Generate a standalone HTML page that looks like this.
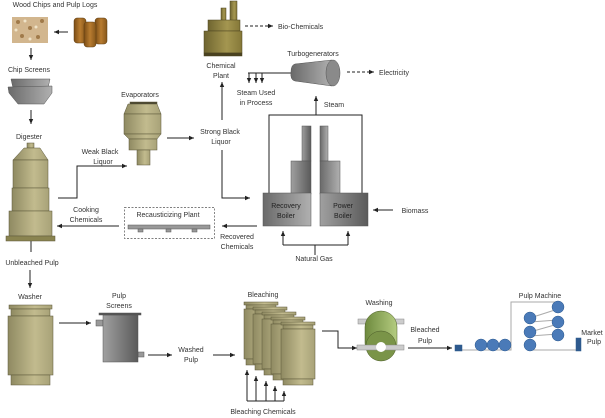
<!DOCTYPE html>
<html><head><meta charset="utf-8"><style>
html,body{margin:0;padding:0;background:#fff;width:605px;height:418px;overflow:hidden}
text{font-family:"Liberation Sans",sans-serif;font-size:7px;fill:#333;text-anchor:middle}
</style></head><body>
<svg width="605" height="418" viewBox="0 0 605 418" xmlns="http://www.w3.org/2000/svg">
<defs>
<marker id="a" markerWidth="6" markerHeight="6" refX="5" refY="3" orient="auto" markerUnits="userSpaceOnUse"><path d="M0,0.8 L5,3 L0,5.2z" fill="#222"/></marker>
<linearGradient id="tan" x1="0" x2="1"><stop offset="0" stop-color="#8f8a62"/><stop offset="0.6" stop-color="#c2bb8e"/><stop offset="1" stop-color="#a8a278"/></linearGradient>
<linearGradient id="olive" x1="0" x2="1"><stop offset="0" stop-color="#6f6530"/><stop offset="0.6" stop-color="#a49650"/><stop offset="1" stop-color="#857838"/></linearGradient>
<linearGradient id="gray" x1="0" x2="1"><stop offset="0" stop-color="#6a6a6a"/><stop offset="1" stop-color="#b0b0b0"/></linearGradient>
<linearGradient id="gray2" x1="0" x2="1"><stop offset="0" stop-color="#a0a0a0"/><stop offset="1" stop-color="#5a5a5a"/></linearGradient>
<linearGradient id="wood" x1="0" x2="1"><stop offset="0" stop-color="#7a4c15"/><stop offset="0.5" stop-color="#b87c30"/><stop offset="1" stop-color="#86561a"/></linearGradient>
<linearGradient id="green" x1="0" x2="1"><stop offset="0" stop-color="#6e8a3e"/><stop offset="1" stop-color="#b4cc80"/></linearGradient>
</defs>
<g stroke="#222" stroke-width="1" fill="none">
<!-- top left -->
<line x1="68" y1="32" x2="54" y2="32" marker-end="url(#a)"/>
<line x1="31" y1="48" x2="31" y2="60" marker-end="url(#a)"/>
<line x1="31" y1="110" x2="31" y2="124" marker-end="url(#a)"/>
<line x1="31" y1="241" x2="31" y2="252"/>
<polyline points="58,198 77,198 77,166 127,166" marker-end="url(#a)"/>
<line x1="167" y1="138" x2="194" y2="138" marker-end="url(#a)"/>
<line x1="222" y1="120" x2="222" y2="82" marker-end="url(#a)"/>
<polyline points="222,150 222,198 250,198" marker-end="url(#a)"/>
<line x1="245" y1="26" x2="273" y2="26" stroke-dasharray="3,2" marker-end="url(#a)"/>
<line x1="347" y1="72" x2="374" y2="72" stroke-dasharray="3,2" marker-end="url(#a)"/>
<line x1="291" y1="73" x2="248" y2="73"/>
<line x1="249" y1="73" x2="249" y2="83" marker-end="url(#a)"/>
<line x1="256" y1="73" x2="256" y2="83" marker-end="url(#a)"/>
<line x1="262" y1="73" x2="262" y2="83" marker-end="url(#a)"/>
<line x1="316" y1="115" x2="316" y2="96" marker-end="url(#a)"/>
<polyline points="269,194 269,115 362,115 362,194"/>
<line x1="393" y1="210" x2="373" y2="210" marker-end="url(#a)"/>
<polyline points="283,245 348,245"/>
<line x1="283" y1="245" x2="283" y2="231" marker-end="url(#a)"/>
<line x1="348" y1="245" x2="348" y2="231" marker-end="url(#a)"/>
<line x1="315" y1="245" x2="315" y2="255"/>
<line x1="257" y1="226" x2="222" y2="226" marker-end="url(#a)"/>
<line x1="119" y1="226" x2="57" y2="226" marker-end="url(#a)"/>
<!-- bottom -->
<line x1="30" y1="270" x2="30" y2="288" marker-end="url(#a)"/>
<line x1="59" y1="323" x2="91" y2="323" marker-end="url(#a)"/>
<line x1="148" y1="355" x2="172" y2="355" marker-end="url(#a)"/>
<line x1="213" y1="355" x2="235" y2="355" marker-end="url(#a)"/>
<polyline points="322,331 338,331 338,348 357,348" marker-end="url(#a)"/>
<line x1="408" y1="348" x2="452" y2="348" marker-end="url(#a)"/>
<line x1="247" y1="401" x2="284" y2="401"/>
<line x1="247" y1="401" x2="247" y2="370" marker-end="url(#a)"/>
<line x1="256" y1="401" x2="256" y2="376" marker-end="url(#a)"/>
<line x1="266" y1="401" x2="266" y2="381" marker-end="url(#a)"/>
<line x1="275" y1="401" x2="275" y2="386" marker-end="url(#a)"/>
<line x1="284" y1="401" x2="284" y2="391" marker-end="url(#a)"/>
</g>
<!-- wood chips -->
<rect x="12" y="17" width="36" height="26" fill="#d2b68e"/>
<g fill="#a07a4a"><circle cx="18" cy="22" r="2"/><circle cx="30" cy="28" r="2"/><circle cx="42" cy="21" r="2"/><circle cx="22" cy="36" r="2"/><circle cx="38" cy="37" r="2"/></g>
<g fill="#efe3c8"><circle cx="25" cy="21" r="1.5"/><circle cx="36" cy="27" r="1.5"/><circle cx="16" cy="30" r="1.5"/><circle cx="30" cy="39" r="1.5"/></g>
<!-- logs -->
<rect x="74" y="18" width="12" height="25" rx="3" fill="url(#wood)" stroke="#5a3a10" stroke-width=".5"/>
<rect x="95" y="18" width="12" height="26" rx="3" fill="url(#wood)" stroke="#5a3a10" stroke-width=".5"/>
<rect x="84" y="22" width="12" height="25" rx="3" fill="url(#wood)" stroke="#5a3a10" stroke-width=".5"/>
<!-- chip screens -->
<path d="M11,79 L50,79 L48,88 L13,88Z" fill="url(#gray)" stroke="#555" stroke-width=".5"/>
<path d="M8,87 L52,86 L52,93 L44,104 L18,104 L9,93Z" fill="url(#gray)" stroke="#555" stroke-width=".5"/>
<!-- digester -->
<g fill="url(#tan)" stroke="#5a5638" stroke-width=".5">
<rect x="27" y="143" width="7" height="5"/>
<path d="M24,148 L40,148 L48,160 L13,160Z"/>
<rect x="13" y="160" width="35" height="28"/>
<rect x="12" y="188" width="37" height="23"/>
<rect x="9" y="211" width="43" height="25"/>
<rect x="6" y="236" width="49" height="5" fill="#8a8450"/>
</g>
<!-- evaporator -->
<g fill="url(#tan)" stroke="#5a5638" stroke-width=".5">
<rect x="130" y="102" width="27" height="3" fill="#4a4630"/>
<path d="M128,104 L157,104 L161,114 L124,114Z"/>
<rect x="124" y="114" width="37" height="20"/>
<path d="M124,134 L161,134 L157,139 L129,139Z"/>
<rect x="129" y="139" width="28" height="11"/>
<rect x="137" y="150" width="13" height="15"/>
</g>
<!-- chemical plant -->
<g fill="url(#olive)" stroke="#4a4220" stroke-width=".5">
<rect x="221" y="8" width="5" height="13"/>
<rect x="230" y="1" width="7" height="20"/>
<rect x="208" y="20" width="32" height="11"/>
<rect x="204" y="31" width="38" height="22"/>
<rect x="204" y="53" width="38" height="3" fill="#4a4220"/>
</g>
<!-- turbogenerator -->
<path d="M295,64 L332,60 L332,86 L295,81 Q290,80 291,72 Q291,65 295,64Z" fill="url(#gray)" stroke="#555" stroke-width=".5"/>
<ellipse cx="333" cy="73" rx="7" ry="13" fill="#8a8a8a" stroke="#555" stroke-width=".5"/>
<!-- boilers -->
<g stroke="#555" stroke-width=".5">
<rect x="302" y="126" width="9" height="35" fill="url(#gray2)"/>
<rect x="291" y="161" width="20" height="33" fill="url(#gray2)"/>
<rect x="320" y="126" width="8" height="35" fill="url(#gray)"/>
<rect x="320" y="161" width="20" height="33" fill="url(#gray)"/>
<rect x="263" y="193" width="48" height="33" fill="url(#gray)"/>
<rect x="320" y="193" width="48" height="33" fill="url(#gray2)"/>
</g>
<!-- recausticizing -->
<rect x="124.5" y="207.5" width="90" height="31" fill="none" stroke="#555" stroke-width=".7" stroke-dasharray="2,1.5"/>
<rect x="128" y="225" width="82" height="4" fill="#999" stroke="#555" stroke-width=".5"/>
<g fill="#999" stroke="#555" stroke-width=".5"><rect x="138" y="229" width="5" height="3"/><rect x="166" y="229" width="5" height="3"/><rect x="192" y="229" width="5" height="3"/></g>
<!-- washer -->
<g fill="url(#tan)" stroke="#5a5638" stroke-width=".5">
<rect x="9" y="305" width="43" height="4"/>
<rect x="11" y="309" width="39" height="7"/>
<rect x="8" y="316" width="45" height="59"/>
<rect x="11" y="375" width="39" height="10"/>
</g>
<!-- pulp screens -->
<g stroke="#555" stroke-width=".5">
<rect x="96" y="320" width="7" height="6" fill="#999"/>
<rect x="138" y="352" width="6" height="5" fill="#999"/>
<rect x="103" y="315" width="35" height="47" fill="url(#gray2)"/>
<rect x="99" y="313" width="42" height="2" fill="#555"/>
</g>
<!-- bleaching -->
<g fill="url(#tan)" stroke="#5a5638" stroke-width=".5">
<g id="cyl"><rect x="244" y="302" width="34" height="3"/><rect x="246" y="305" width="30" height="4"/><rect x="244" y="309" width="34" height="50"/><rect x="246" y="359" width="30" height="6"/></g>
<use href="#cyl" x="9" y="5"/><use href="#cyl" x="18" y="10"/><use href="#cyl" x="27" y="15"/><use href="#cyl" x="37" y="20"/>
</g>
<!-- washing drum -->
<rect x="358" y="319" width="46" height="5" fill="#ccc" stroke="#888" stroke-width=".5"/>
<rect x="365" y="311" width="32" height="48" rx="16" fill="url(#green)" stroke="#4a5a28" stroke-width=".5"/>
<circle cx="381" cy="346" r="15" fill="#7a9448" stroke="#4a5a28" stroke-width=".5"/>
<rect x="357" y="345" width="47" height="5" fill="#ccc" stroke="#888" stroke-width=".5"/>
<circle cx="381" cy="347" r="5" fill="#fff"/>
<!-- pulp machine -->
<g fill="none" stroke="#aaa" stroke-width="1">
<polyline points="462,350 511,350 511,302 558,302"/>
<line x1="530" y1="318" x2="558" y2="309"/><line x1="530" y1="322" x2="558" y2="320"/>
<line x1="530" y1="332" x2="558" y2="324"/><line x1="530" y1="336" x2="558" y2="334"/>
<line x1="530" y1="350" x2="576" y2="350"/>
</g>
<g fill="#4a7ab8" stroke="#2e5a8e" stroke-width=".5">
<rect x="455" y="345" width="7" height="6" fill="#2e5a8e"/>
<circle cx="481" cy="345" r="6"/><circle cx="493" cy="345" r="6"/><circle cx="505" cy="345" r="6"/>
<circle cx="558" cy="307" r="6"/><circle cx="558" cy="322" r="6"/><circle cx="558" cy="335" r="6"/>
<circle cx="530" cy="318" r="6"/><circle cx="530" cy="332" r="6"/><circle cx="530" cy="345" r="6"/>
<rect x="576" y="338" width="5" height="13" fill="#2e5a8e"/>
</g>
<!-- labels -->
<text x="55" y="7">Wood Chips and Pulp Logs</text>
<text x="29" y="72">Chip Screens</text>
<text x="29" y="139">Digester</text>
<text x="100" y="154">Weak Black</text><text x="103" y="164">Liquor</text>
<text x="140" y="97">Evaporators</text>
<text x="220" y="134">Strong Black</text><text x="221" y="144">Liquor</text>
<text x="221" y="68">Chemical</text><text x="221" y="78">Plant</text>
<text x="278" y="29" style="text-anchor:start">Bio-Chemicals</text>
<text x="313" y="56">Turbogenerators</text>
<text x="379" y="75" style="text-anchor:start">Electricity</text>
<text x="256" y="95">Steam Used</text><text x="256" y="105">in Process</text>
<text x="334" y="107">Steam</text>
<text x="286" y="208" style="fill:#222">Recovery</text><text x="286" y="218" style="fill:#222">Boiler</text>
<text x="343" y="208" style="fill:#222">Power</text><text x="343" y="218" style="fill:#222">Boiler</text>
<text x="415" y="213">Biomass</text>
<text x="314" y="261">Natural Gas</text>
<text x="237" y="239">Recovered</text><text x="237" y="249">Chemicals</text>
<text x="168" y="217">Recausticizing Plant</text>
<text x="86" y="212">Cooking</text><text x="86" y="222">Chemicals</text>
<text x="32" y="265">Unbleached Pulp</text>
<text x="30" y="299">Washer</text>
<text x="119" y="298">Pulp</text><text x="119" y="308">Screens</text>
<text x="191" y="352">Washed</text><text x="191" y="362">Pulp</text>
<text x="263" y="297">Bleaching</text>
<text x="263" y="414">Bleaching Chemicals</text>
<text x="379" y="305">Washing</text>
<text x="425" y="332">Bleached</text><text x="425" y="343">Pulp</text>
<text x="540" y="298">Pulp Machine</text>
<text x="592" y="335">Market</text><text x="594" y="344">Pulp</text>
</g>
</svg>
</body></html>
